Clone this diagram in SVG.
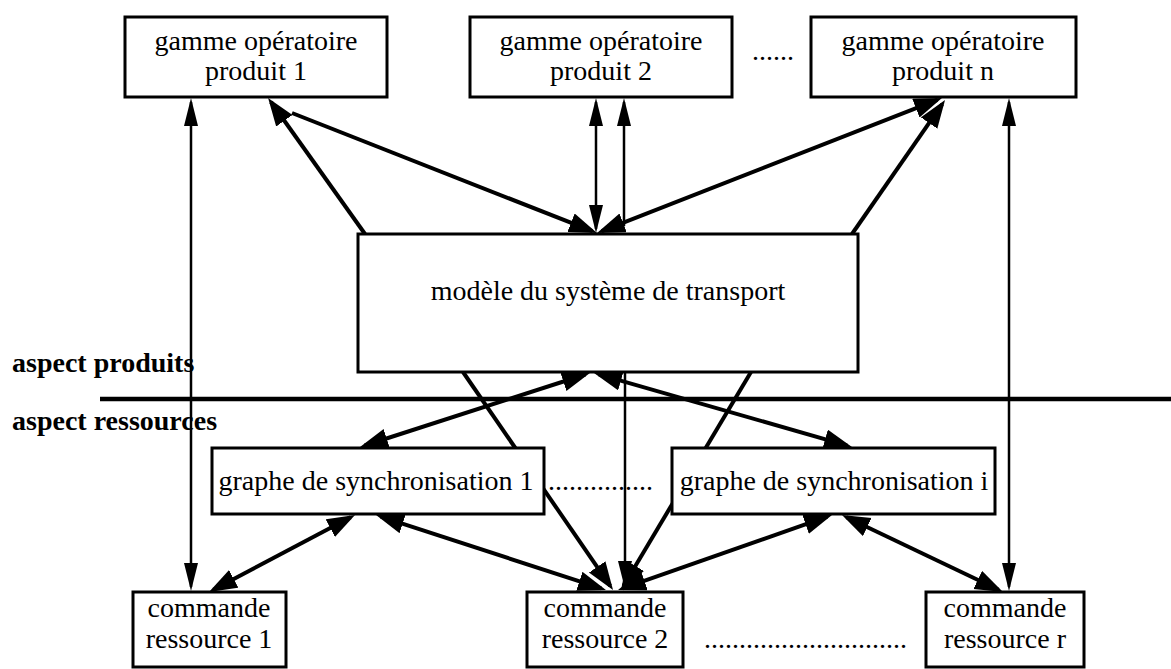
<svg xmlns="http://www.w3.org/2000/svg" width="1171" height="669" viewBox="0 0 1171 669">
  <defs>
    <style>
      .box { fill: #fff; stroke: #000; stroke-width: 3; }
      .t { font-family: "Liberation Serif", "Times New Roman", serif; font-size: 28px; fill: #000; text-anchor: middle; }
      .dots { font-family: "Liberation Serif", "Times New Roman", serif; font-size: 28px; fill: #000; }
      .lbl { font-family: "Liberation Serif", "Times New Roman", serif; font-size: 28px; font-weight: bold; fill: #000; }
      .c { stroke: #000; stroke-width: 4; fill: none; }
      .v { stroke: #000; stroke-width: 2.5; fill: none; }
    </style>
    <marker id="ah" markerUnits="userSpaceOnUse" markerWidth="30" markerHeight="22" refX="23" refY="10" orient="auto-start-reverse">
      <path d="M0,0 L28,10 L0,20 z" fill="#000"/>
    </marker>
    <marker id="av" markerUnits="userSpaceOnUse" markerWidth="30" markerHeight="16" refX="24" refY="7" orient="auto-start-reverse">
      <path d="M0,0 L28,7 L0,14 z" fill="#000"/>
    </marker>
  </defs>

  <!-- separator between the product and resource aspects -->
  <g id="separator">
    <line x1="100" y1="399" x2="1171" y2="399" stroke="#000" stroke-width="4.5"/>
    <text class="lbl" x="12" y="372">aspect produits</text>
    <text class="lbl" x="12" y="430">aspect ressources</text>
  </g>

  <g id="connectors">
    <!-- long verticals -->
    <line class="v" x1="191" y1="102" x2="191" y2="587" marker-start="url(#av)" marker-end="url(#av)"/>
    <line class="v" x1="1009" y1="102" x2="1009" y2="587" marker-start="url(#av)" marker-end="url(#av)"/>
    <!-- produit 2 <-> modele -->
    <line class="v" x1="596" y1="102" x2="596" y2="229" stroke-width="3" marker-start="url(#av)" marker-end="url(#av)"/>
    <line class="v" x1="624" y1="102" x2="624" y2="226" stroke-width="3" marker-start="url(#av)"/>
    <!-- produit 1 <-> modele -->
    <line class="c" x1="365" y1="234" x2="271" y2="102" marker-end="url(#ah)"/>
    <line class="c" x1="592.4" y1="231.2" x2="292" y2="113" marker-start="url(#ah)"/>
    <!-- produit n <-> modele -->
    <line class="c" x1="601.7" y1="231.2" x2="937.3" y2="99.8" marker-start="url(#ah)" marker-end="url(#ah)"/>
    <line class="c" x1="852" y1="234" x2="942.2" y2="104.1" marker-end="url(#ah)"/>
    <!-- modele <-> graphes de synchronisation -->
    <line class="c" x1="585.2" y1="374.5" x2="364.8" y2="445.5" marker-start="url(#ah)" marker-end="url(#ah)"/>
    <line class="c" x1="598.8" y1="374.4" x2="847.2" y2="445.6" marker-start="url(#ah)" marker-end="url(#ah)"/>
    <!-- modele -> commande ressource 2 -->
    <line class="c" x1="463" y1="372" x2="610.2" y2="585.9" marker-end="url(#ah)"/>
    <line class="c" x1="751" y1="372" x2="623.6" y2="585.7" marker-end="url(#ah)"/>
    <line class="v" x1="625" y1="372" x2="625" y2="585" stroke-width="3" marker-end="url(#av)"/>
    <!-- graphes de synchronisation <-> commandes -->
    <line class="c" x1="350.6" y1="517.3" x2="213.4" y2="589.7" marker-start="url(#ah)" marker-end="url(#ah)"/>
    <line class="c" x1="380.8" y1="516.6" x2="601.2" y2="588.4" marker-start="url(#ah)" marker-end="url(#ah)"/>
    <line class="c" x1="827.3" y1="516.7" x2="622.7" y2="588.3" marker-start="url(#ah)" marker-end="url(#ah)"/>
    <line class="c" x1="846.5" y1="517.2" x2="998.5" y2="589.8" marker-start="url(#ah)" marker-end="url(#ah)"/>
  </g>

  <g id="produit1">
    <rect class="box" x="125" y="17" width="262" height="80"/>
    <text class="t" x="256" y="50">gamme opératoire</text>
    <text class="t" x="256" y="80">produit 1</text>
  </g>
  <g id="produit2">
    <rect class="box" x="470" y="17" width="262" height="80"/>
    <text class="t" x="601" y="50">gamme opératoire</text>
    <text class="t" x="601" y="80">produit 2</text>
  </g>
  <text class="dots" x="752" y="60" font-size="24">......</text>
  <g id="produitn">
    <rect class="box" x="811" y="17" width="265" height="80"/>
    <text class="t" x="943" y="50">gamme opératoire</text>
    <text class="t" x="943" y="80">produit n</text>
  </g>

  <g id="modele">
    <rect class="box" x="358" y="234" width="500" height="138"/>
    <text class="t" x="608" y="300">modèle du système de transport</text>
  </g>

  <g id="synchro1">
    <rect class="box" x="212" y="448" width="332" height="66"/>
    <text class="t" x="376" y="490">graphe de synchronisation 1</text>
  </g>
  <text class="dots" x="548" y="490">...............</text>
  <g id="synchroi">
    <rect class="box" x="672" y="448" width="323" height="66"/>
    <text class="t" x="834" y="490">graphe de synchronisation i</text>
  </g>

  <g id="commande1">
    <rect class="box" x="133" y="592" width="153" height="75"/>
    <text class="t" x="209" y="617">commande</text>
    <text class="t" x="209" y="648">ressource 1</text>
  </g>
  <g id="commande2">
    <rect class="box" x="527" y="592" width="156" height="75"/>
    <text class="t" x="605" y="617">commande</text>
    <text class="t" x="605" y="648">ressource 2</text>
  </g>
  <text class="dots" x="704" y="648">.............................</text>
  <g id="commander">
    <rect class="box" x="926" y="592" width="158" height="75"/>
    <text class="t" x="1005" y="617">commande</text>
    <text class="t" x="1005" y="648">ressource r</text>
  </g>
</svg>
